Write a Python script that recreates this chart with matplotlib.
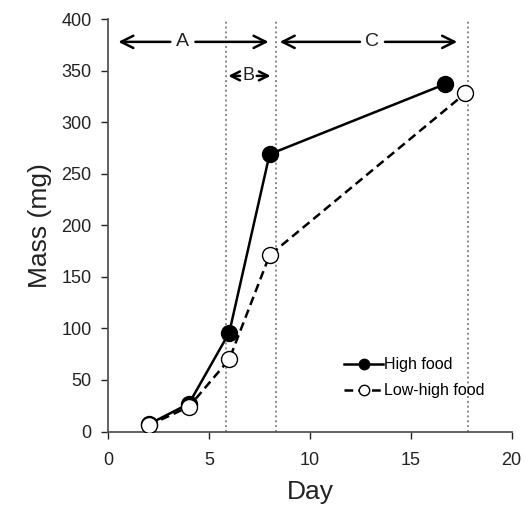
import numpy as np
import matplotlib.pyplot as plt

plt.rcParams['font.family'] = ['Liberation Sans', 'DejaVu Sans']

# Data
high_day = [2, 4, 6, 8, 16.7]
high_mass = [7, 27, 96, 269, 337]
low_day = [2, 4, 6, 8, 17.7]
low_mass = [6, 24, 70, 171, 328]

phase_lines = [5.84, 8.3, 17.85]

fig = plt.figure(figsize=(5.28, 5.05), dpi=100)
ax = fig.add_axes([0.205, 0.1455, 0.764, 0.8165])

# Phase boundaries
for x in phase_lines:
    ax.axvline(x, color='#888888', linestyle=(0, (1, 1.5)), linewidth=1.4, zorder=1)

ax.plot(high_day, high_mass, color='black', linestyle='-', linewidth=1.8,
        marker='o', markersize=11.5, markerfacecolor='black', markeredgecolor='black',
        label='High food', zorder=3)
ax.plot(low_day, low_mass, color='black', linestyle=(0, (3.5, 2)), linewidth=1.8,
        marker='o', markersize=11.5, markerfacecolor='white', markeredgecolor='black',
        markeredgewidth=1.0, label='Low-high food', zorder=4)

# Phase arrows
def phase_arrow(x0, x1, y, label, xl, fs=14, ms=22, gap=9):
    for xe in (x0, x1):
        ax.annotate('', xy=(xe, y), xytext=(xl, y),
                    arrowprops=dict(arrowstyle='->', color='black', lw=1.8,
                                    mutation_scale=ms, shrinkA=gap, shrinkB=0))
    ax.text(xl, y, label, ha='center', va='center', fontsize=fs, color='#222222')

phase_arrow(0.5, 7.95, 378, 'A', 3.7)
phase_arrow(8.5, 17.3, 378, 'C', 13.1)
phase_arrow(5.95, 8.05, 345, 'B', 6.95, fs=13, ms=16, gap=6)

ax.set_xlim(0, 20)
ax.set_ylim(0, 400)
ax.set_xticks([0, 5, 10, 15, 20])
ax.set_yticks(np.arange(0, 401, 50))
ax.tick_params(labelsize=13, colors='#222222', direction='out', length=5, width=1)
ax.tick_params(axis='x', pad=10)
ax.tick_params(axis='y', pad=7)
for s in ['top', 'right']:
    ax.spines[s].set_visible(False)
for s in ['left', 'bottom']:
    ax.spines[s].set_color('#555555')
    ax.spines[s].set_linewidth(1.3)

ax.set_xlabel('Day', fontsize=19, color='#222222', labelpad=8)
ax.set_ylabel('Mass (mg)', fontsize=19, color='#222222', labelpad=7)

ax.legend(loc='upper left', bbox_to_anchor=(0.55, 0.215),
          frameon=False, fontsize=11.5, handlelength=2.4, handletextpad=0.1,
          labelspacing=0.7, markerscale=0.65)

fig.savefig('out.png', dpi=100)
